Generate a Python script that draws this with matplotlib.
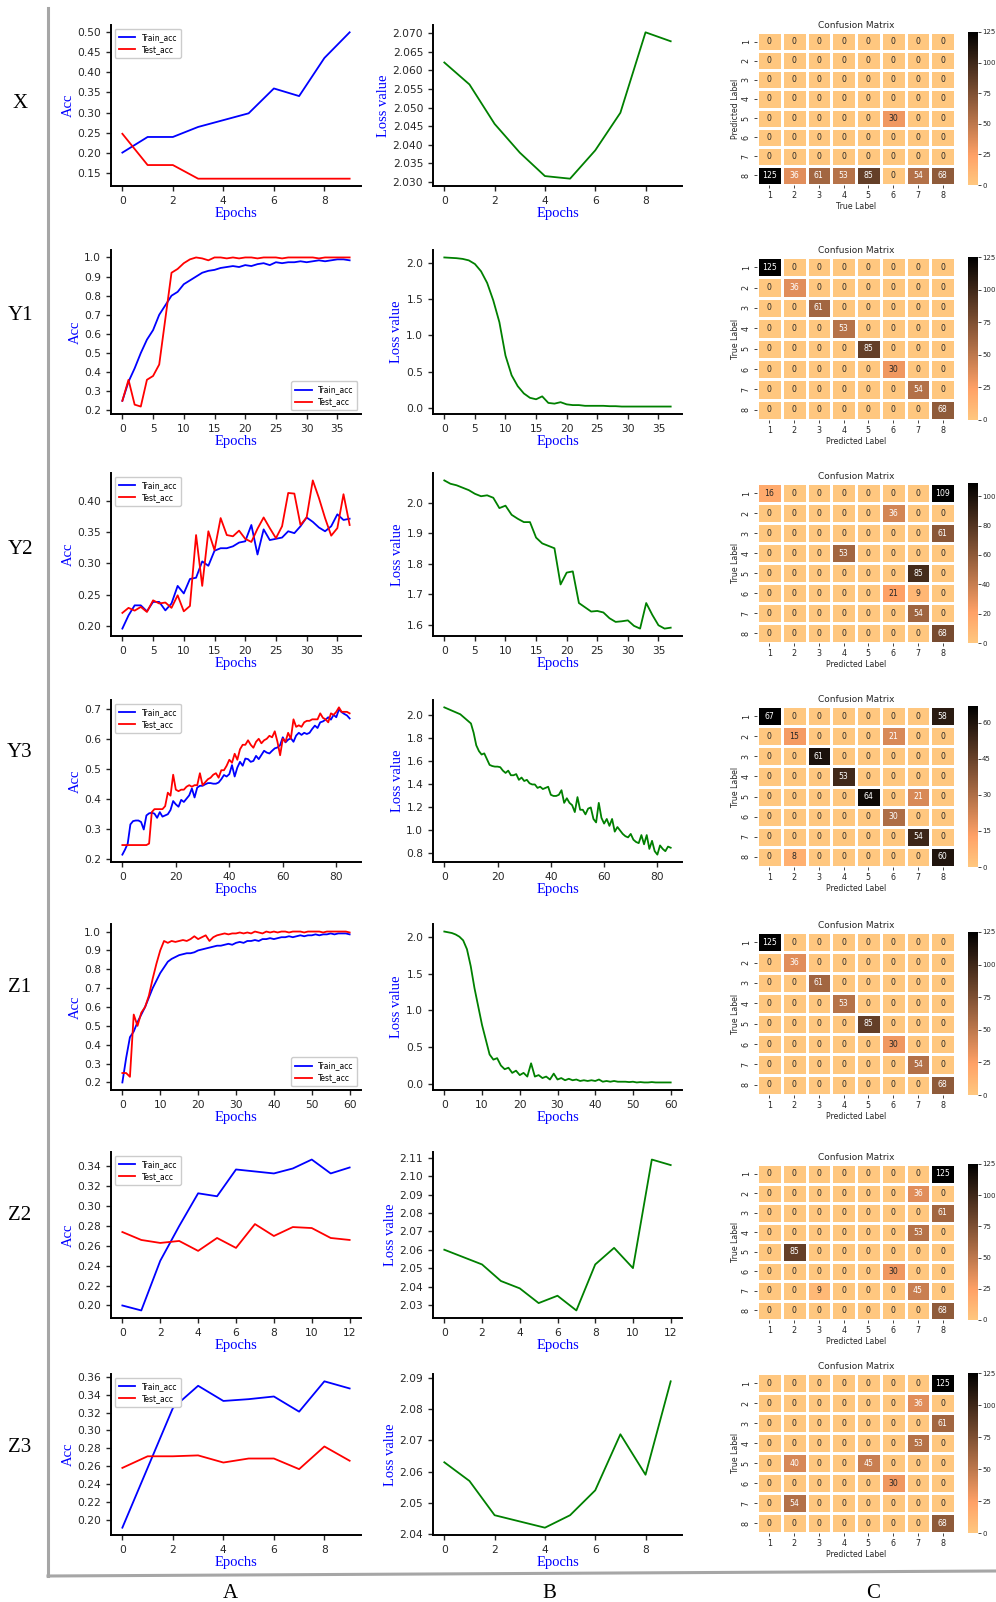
import numpy as np
import matplotlib
matplotlib.use('Agg')
import matplotlib.pyplot as plt
from matplotlib.lines import Line2D
from matplotlib.ticker import MultipleLocator, ScalarFormatter

W, H = 996, 1602

# ---------------- data ----------------
# row X
x_train = [0.200, 0.239, 0.239, 0.264, 0.281, 0.298, 0.360, 0.341, 0.436, 0.500]
x_test = [0.247, 0.169, 0.169, 0.135, 0.135, 0.135, 0.135, 0.135, 0.135, 0.135]
x_loss = [2.0621, 2.0562, 2.0456, 2.0379, 2.0316, 2.0309, 2.0385, 2.0486, 2.0702, 2.0678]

# row Y1
y1_train = [0.25, 0.35, 0.42, 0.50, 0.57, 0.62, 0.70, 0.75, 0.80, 0.82,
            0.86, 0.88, 0.90, 0.92, 0.93, 0.935, 0.945, 0.95, 0.955, 0.95,
            0.96, 0.955, 0.965, 0.97, 0.96, 0.975, 0.97, 0.975, 0.975, 0.98,
            0.975, 0.98, 0.985, 0.98, 0.985, 0.99, 0.99, 0.985]
y1_test = [0.25, 0.36, 0.23, 0.22, 0.36, 0.38, 0.44, 0.68, 0.92, 0.94,
           0.97, 0.99, 1.0, 0.995, 0.985, 1.0, 1.0, 0.995, 1.0, 0.995,
           1.0, 1.0, 0.995, 1.0, 1.0, 1.0, 0.995, 1.0, 1.0, 1.0,
           1.0, 1.0, 0.995, 1.0, 1.0, 1.0, 1.0, 1.0]
y1_loss = [2.07, 2.065, 2.06, 2.05, 2.03, 1.98, 1.88, 1.72, 1.48, 1.18,
           0.72, 0.45, 0.30, 0.20, 0.14, 0.12, 0.16, 0.07, 0.06, 0.08,
           0.05, 0.04, 0.04, 0.03, 0.03, 0.03, 0.03, 0.025, 0.025, 0.02,
           0.02, 0.02, 0.02, 0.02, 0.02, 0.02, 0.02, 0.02]

# row Y2
y2_train = [0.196, 0.217, 0.233, 0.233, 0.2235, 0.2385, 0.2385, 0.225, 0.236, 0.264,
            0.252, 0.275, 0.277, 0.303, 0.296, 0.320, 0.324, 0.324, 0.327, 0.333,
            0.335, 0.361, 0.314, 0.354, 0.337, 0.339, 0.341, 0.351, 0.348, 0.359,
            0.373, 0.366, 0.357, 0.351, 0.359, 0.378, 0.369, 0.371]
y2_test = [0.221, 0.229, 0.2246, 0.2305, 0.2225, 0.241, 0.236, 0.2375, 0.229, 0.249,
           0.2235, 0.232, 0.345, 0.264, 0.351, 0.321, 0.372, 0.345, 0.343, 0.352,
           0.339, 0.334, 0.355, 0.373, 0.356, 0.340, 0.359, 0.412, 0.411, 0.361,
           0.373, 0.432, 0.404, 0.372, 0.344, 0.356, 0.410, 0.361]
y2_loss = [2.074, 2.063, 2.058, 2.050, 2.042, 2.030, 2.022, 2.025, 2.017, 1.983,
           1.991, 1.961, 1.948, 1.937, 1.937, 1.886, 1.867, 1.859, 1.851, 1.732,
           1.771, 1.775, 1.671, 1.657, 1.643, 1.645, 1.640, 1.621, 1.609, 1.611,
           1.614, 1.596, 1.587, 1.671, 1.632, 1.598, 1.587, 1.590]

# row Y3
y3_train = [0.213, 0.23, 0.25, 0.314, 0.325, 0.327, 0.327, 0.322, 0.297, 0.344,
            0.351, 0.353, 0.35, 0.336, 0.355, 0.34, 0.344, 0.348, 0.362, 0.392,
            0.381, 0.373, 0.396, 0.389, 0.40, 0.411, 0.434, 0.404, 0.437, 0.443,
            0.443, 0.448, 0.452, 0.452, 0.45, 0.45, 0.454, 0.465, 0.479, 0.474,
            0.482, 0.512, 0.474, 0.504, 0.523, 0.51, 0.534, 0.532, 0.523, 0.526,
            0.543, 0.532, 0.546, 0.56, 0.554, 0.551, 0.56, 0.568, 0.571, 0.579,
            0.605, 0.588, 0.597, 0.602, 0.59, 0.611, 0.62, 0.613, 0.62, 0.616,
            0.62, 0.633, 0.644, 0.636, 0.655, 0.658, 0.664, 0.672, 0.664, 0.68,
            0.672, 0.698, 0.689, 0.683, 0.678, 0.668]
y3_test = [0.245, 0.245, 0.245, 0.245, 0.245, 0.245, 0.245, 0.245, 0.245, 0.245,
           0.25, 0.355, 0.365, 0.365, 0.365, 0.365, 0.375, 0.42, 0.41, 0.48,
           0.43, 0.425, 0.43, 0.43, 0.44, 0.445, 0.44, 0.445, 0.445, 0.485,
           0.445, 0.455, 0.465, 0.47, 0.48, 0.485, 0.47, 0.495, 0.495, 0.51,
           0.53, 0.52, 0.55, 0.53, 0.565, 0.58, 0.58, 0.595, 0.58, 0.57,
           0.59, 0.60, 0.585, 0.595, 0.60, 0.61, 0.605, 0.625, 0.59, 0.545,
           0.60, 0.59, 0.62, 0.60, 0.665, 0.64, 0.645, 0.64, 0.655, 0.66,
           0.66, 0.665, 0.665, 0.665, 0.685, 0.67, 0.665, 0.655, 0.685, 0.68,
           0.69, 0.705, 0.69, 0.69, 0.69, 0.685]
y3_loss = [2.07, 2.06, 2.05, 2.04, 2.03, 2.02, 2.01, 1.99, 1.97, 1.95,
           1.93, 1.85, 1.74, 1.69, 1.66, 1.67, 1.62, 1.57, 1.56, 1.555,
           1.555, 1.55, 1.52, 1.50, 1.52, 1.48, 1.48, 1.49, 1.44, 1.46,
           1.43, 1.44, 1.41, 1.40, 1.40, 1.37, 1.38, 1.36, 1.37, 1.38,
           1.31, 1.30, 1.30, 1.31, 1.35, 1.24, 1.28, 1.24, 1.22, 1.16,
           1.29, 1.18, 1.18, 1.14, 1.19, 1.20, 1.10, 1.07, 1.24, 1.11,
           1.06, 1.10, 1.04, 1.10, 0.99, 1.03, 1.00, 0.97, 0.95, 0.94,
           0.97, 0.92, 0.90, 0.89, 0.96, 0.88, 0.96, 0.84, 0.91, 0.82,
           0.79, 0.87, 0.84, 0.82, 0.86, 0.85]

# row Z1
z1_train = [0.20, 0.33, 0.44, 0.47, 0.52, 0.56, 0.60, 0.65, 0.70, 0.74,
            0.78, 0.81, 0.84, 0.855, 0.865, 0.875, 0.88, 0.885, 0.885, 0.89,
            0.90, 0.905, 0.91, 0.915, 0.92, 0.925, 0.925, 0.93, 0.935, 0.93,
            0.94, 0.945, 0.94, 0.95, 0.95, 0.955, 0.95, 0.96, 0.96, 0.965,
            0.96, 0.965, 0.97, 0.97, 0.975, 0.97, 0.975, 0.98, 0.975, 0.98,
            0.98, 0.985, 0.98, 0.985, 0.985, 0.99, 0.985, 0.99, 0.99, 0.99, 0.985]
z1_test = [0.25, 0.25, 0.23, 0.56, 0.50, 0.57, 0.60, 0.66, 0.75, 0.83,
           0.90, 0.95, 0.94, 0.95, 0.945, 0.95, 0.955, 0.95, 0.96, 0.975,
           0.96, 0.97, 0.98, 0.95, 0.97, 0.98, 0.985, 0.99, 0.985, 0.99,
           0.99, 0.995, 0.99, 0.995, 0.99, 1.0, 0.995, 0.99, 1.0, 0.995,
           1.0, 0.995, 1.0, 1.0, 0.995, 1.0, 1.0, 1.0, 0.995, 1.0,
           1.0, 1.0, 1.0, 0.995, 1.0, 1.0, 1.0, 1.0, 1.0, 1.0, 0.995]
z1_loss = [2.07, 2.06, 2.05, 2.03, 2.00, 1.95, 1.83, 1.60, 1.30, 1.05,
           0.80, 0.60, 0.40, 0.33, 0.35, 0.25, 0.20, 0.22, 0.15, 0.18,
           0.12, 0.15, 0.10, 0.28, 0.10, 0.12, 0.08, 0.10, 0.06, 0.14,
           0.06, 0.08, 0.05, 0.07, 0.05, 0.06, 0.04, 0.05, 0.04, 0.05,
           0.04, 0.06, 0.03, 0.04, 0.03, 0.04, 0.03, 0.03, 0.03, 0.025,
           0.03, 0.02, 0.025, 0.02, 0.02, 0.025, 0.02, 0.02, 0.02, 0.02, 0.02]

# row Z2
z2_train = [0.200, 0.195, 0.245, 0.280, 0.313, 0.310, 0.337, 0.335, 0.333, 0.338, 0.347, 0.333, 0.339]
z2_test = [0.274, 0.266, 0.263, 0.265, 0.255, 0.268, 0.258, 0.282, 0.270, 0.279, 0.278, 0.268, 0.266]
z2_loss = [2.060, 2.056, 2.052, 2.043, 2.039, 2.031, 2.035, 2.027, 2.052, 2.061, 2.050, 2.109, 2.106]

# row Z3
z3_train = [0.191, 0.258, 0.325, 0.350, 0.333, 0.335, 0.338, 0.321, 0.355, 0.347]
z3_test = [0.258, 0.271, 0.271, 0.272, 0.264, 0.2685, 0.2685, 0.2566, 0.282, 0.266]
z3_loss = [2.063, 2.057, 2.046, 2.044, 2.042, 2.046, 2.054, 2.072, 2.059, 2.089]

# confusion matrices (rows top to bottom)
x_cm = [[0, 0, 0, 0, 0, 0, 0, 0],
        [0, 0, 0, 0, 0, 0, 0, 0],
        [0, 0, 0, 0, 0, 0, 0, 0],
        [0, 0, 0, 0, 0, 0, 0, 0],
        [0, 0, 0, 0, 0, 30, 0, 0],
        [0, 0, 0, 0, 0, 0, 0, 0],
        [0, 0, 0, 0, 0, 0, 0, 0],
        [125, 36, 61, 53, 85, 0, 54, 68]]
y1_cm = [[125, 0, 0, 0, 0, 0, 0, 0],
         [0, 36, 0, 0, 0, 0, 0, 0],
         [0, 0, 61, 0, 0, 0, 0, 0],
         [0, 0, 0, 53, 0, 0, 0, 0],
         [0, 0, 0, 0, 85, 0, 0, 0],
         [0, 0, 0, 0, 0, 30, 0, 0],
         [0, 0, 0, 0, 0, 0, 54, 0],
         [0, 0, 0, 0, 0, 0, 0, 68]]
y2_cm = [[16, 0, 0, 0, 0, 0, 0, 109],
         [0, 0, 0, 0, 0, 36, 0, 0],
         [0, 0, 0, 0, 0, 0, 0, 61],
         [0, 0, 0, 53, 0, 0, 0, 0],
         [0, 0, 0, 0, 0, 0, 85, 0],
         [0, 0, 0, 0, 0, 21, 9, 0],
         [0, 0, 0, 0, 0, 0, 54, 0],
         [0, 0, 0, 0, 0, 0, 0, 68]]
y3_cm = [[67, 0, 0, 0, 0, 0, 0, 58],
         [0, 15, 0, 0, 0, 21, 0, 0],
         [0, 0, 61, 0, 0, 0, 0, 0],
         [0, 0, 0, 53, 0, 0, 0, 0],
         [0, 0, 0, 0, 64, 0, 21, 0],
         [0, 0, 0, 0, 0, 30, 0, 0],
         [0, 0, 0, 0, 0, 0, 54, 0],
         [0, 8, 0, 0, 0, 0, 0, 60]]
z1_cm = [[125, 0, 0, 0, 0, 0, 0, 0],
         [0, 36, 0, 0, 0, 0, 0, 0],
         [0, 0, 61, 0, 0, 0, 0, 0],
         [0, 0, 0, 53, 0, 0, 0, 0],
         [0, 0, 0, 0, 85, 0, 0, 0],
         [0, 0, 0, 0, 0, 30, 0, 0],
         [0, 0, 0, 0, 0, 0, 54, 0],
         [0, 0, 0, 0, 0, 0, 0, 68]]
z2_cm = [[0, 0, 0, 0, 0, 0, 0, 125],
         [0, 0, 0, 0, 0, 0, 36, 0],
         [0, 0, 0, 0, 0, 0, 0, 61],
         [0, 0, 0, 0, 0, 0, 53, 0],
         [0, 85, 0, 0, 0, 0, 0, 0],
         [0, 0, 0, 0, 0, 30, 0, 0],
         [0, 0, 9, 0, 0, 0, 45, 0],
         [0, 0, 0, 0, 0, 0, 0, 68]]
z3_cm = [[0, 0, 0, 0, 0, 0, 0, 125],
         [0, 0, 0, 0, 0, 0, 36, 0],
         [0, 0, 0, 0, 0, 0, 0, 61],
         [0, 0, 0, 0, 0, 0, 53, 0],
         [0, 40, 0, 0, 45, 0, 0, 0],
         [0, 0, 0, 0, 0, 30, 0, 0],
         [0, 54, 0, 0, 0, 0, 0, 0],
         [0, 0, 0, 0, 0, 0, 0, 68]]

row_names = ["X", "Y1", "Y2", "Y3", "Z1", "Z2", "Z3"]
col_names = ["A", "B", "C"]
cm_ticks = ["1", "2", "3", "4", "5", "6", "7", "8"]

trains = [x_train, y1_train, y2_train, y3_train, z1_train, z2_train, z3_train]
tests = [x_test, y1_test, y2_test, y3_test, z1_test, z2_test, z3_test]
losses = [x_loss, y1_loss, y2_loss, y3_loss, z1_loss, z2_loss, z3_loss]
cms = [x_cm, y1_cm, y2_cm, y3_cm, z1_cm, z2_cm, z3_cm]

# ---------------- layout / style per row ----------------
line_rows = [(25, 186), (250, 414), (473, 636), (700, 862), (924, 1090), (1152, 1318), (1374, 1535)]
cm_rows = [(32, 185), (257, 420), (483, 643), (706, 867), (932, 1095), (1164, 1320), (1373, 1533)]
name_y = [103, 315, 549, 753, 988, 1216, 1447]
x_steps = [2, 5, 5, 20, 10, 2, 2]
acc_steps = [0.05, 0.1, 0.05, 0.1, 0.1, 0.02, 0.02]
loss_steps = [0.005, 0.5, 0.1, 0.2, 0.5, 0.01, 0.01]
cbar_steps = [25, 25, 20, 15, 25, 25, 25]
legend_locs = ["upper left", "lower right", "upper left", "upper left",
               "lower right", "upper left", "upper left"]

serif = "Liberation Serif"
tick_col = "#262626"


def rect(x0, y0, x1, y1):
    return [x0 / W, 1 - y1 / H, (x1 - x0) / W, (y1 - y0) / H]


def style_line_ax(ax, xstep, ystep):
    for s in ["top", "right"]:
        ax.spines[s].set_visible(False)
    for s in ["left", "bottom"]:
        ax.spines[s].set_linewidth(1.4)
        ax.spines[s].set_color("black")
    ax.xaxis.set_major_locator(MultipleLocator(xstep))
    ax.yaxis.set_major_locator(MultipleLocator(ystep))
    fmt = ScalarFormatter(useOffset=False)
    ax.yaxis.set_major_formatter(fmt)
    ax.tick_params(labelsize=7.7, colors=tick_col, width=1.0, length=3.5)
    ax.set_xlabel("Epochs", fontfamily=serif, fontsize=10.5, color="blue", labelpad=1)


def lum_text_color(rgba):
    rgb = np.array(rgba[:3])
    rgb = np.where(rgb <= .03928, rgb / 12.92, ((rgb + .055) / 1.055) ** 2.4)
    lum = .2126 * rgb[0] + .7152 * rgb[1] + .0722 * rgb[2]
    return ".15" if lum > .408 else "w"


def draw_cm(ax, cax, cm, step, xlab, ylab):
    cm = np.array(cm)
    mesh = ax.pcolormesh(cm, cmap="copper_r", vmin=0, vmax=cm.max(),
                         edgecolors="white", linewidth=1.0)
    ax.set_xlim(0, 8)
    ax.set_ylim(8, 0)
    for s in ax.spines.values():
        s.set_visible(False)
    for i in range(8):
        for j in range(8):
            col = lum_text_color(mesh.cmap(mesh.norm(cm[i, j])))
            ax.text(j + 0.5, i + 0.5, str(cm[i, j]), ha="center", va="center",
                    fontsize=5.6, color=col)
    ax.set_xticks(np.arange(8) + 0.5)
    ax.set_xticklabels(cm_ticks)
    ax.set_yticks(np.arange(8) + 0.5)
    ax.set_yticklabels(cm_ticks, rotation=90, va="center")
    ax.tick_params(labelsize=5.8, colors=tick_col, length=2.5, width=0.6, pad=2)
    ax.set_title("Confusion Matrix", fontsize=6.5, color=tick_col, pad=3)
    ax.set_xlabel(xlab, fontsize=5.6, color=tick_col, labelpad=1)
    ax.set_ylabel(ylab, fontsize=5.6, color=tick_col, labelpad=1)
    cb = plt.colorbar(mesh, cax=cax)
    cb.outline.set_linewidth(0)
    cb.set_ticks(np.arange(0, cm.max() + 1, step))
    cax.tick_params(labelsize=5.0, colors=tick_col, length=2.0, width=0.6, pad=1)


fig = plt.figure(figsize=(W / 100, H / 100), dpi=100)

for r in range(7):
    y0, y1 = line_rows[r]
    ep = np.arange(len(trains[r]))

    # column A: accuracy
    ax = fig.add_axes(rect(111, y0, 361, y1))
    ax.plot(ep, trains[r], color="blue", lw=1.3, label="Train_acc")
    ax.plot(np.arange(len(tests[r])), tests[r], color="red", lw=1.3, label="Test_acc")
    style_line_ax(ax, x_steps[r], acc_steps[r])
    ax.set_ylabel("Acc", fontfamily=serif, fontsize=10.5, color="blue", labelpad=2)
    ax.legend(loc=legend_locs[r], fontsize=5.5, handlelength=2.2, borderpad=0.5,
              labelspacing=0.4, framealpha=1)

    # column B: loss
    ax = fig.add_axes(rect(433, y0, 682, y1))
    ax.plot(np.arange(len(losses[r])), losses[r], color="green", lw=1.3)
    style_line_ax(ax, x_steps[r], loss_steps[r])
    ax.set_ylabel("Loss value", fontfamily=serif, fontsize=10.5, color="blue", labelpad=2)

    # column C: confusion matrix
    c0, c1 = cm_rows[r]
    ax = fig.add_axes(rect(757, c0, 955, c1))
    cax = fig.add_axes(rect(968, c0, 978, c1))
    if r == 0:
        draw_cm(ax, cax, cms[r], cbar_steps[r], "True Label", "Predicted Label")
    else:
        draw_cm(ax, cax, cms[r], cbar_steps[r], "Predicted Label", "True Label")

    fig.text(20 / W, 1 - name_y[r] / H, row_names[r], fontfamily=serif, fontsize=15,
             ha="center", va="center")

for name, cx in zip(col_names, [230, 549, 873]):
    fig.text(cx / W, 1 - 1593 / H, name, fontfamily=serif, fontsize=15,
             ha="center", va="center")

# grey frame
fig.add_artist(Line2D([48 / W, 48 / W], [1 - 8 / H, 1 - 1576 / H],
                      transform=fig.transFigure, color="#a6a6a6", lw=2.2))
fig.add_artist(Line2D([48 / W, 1.0], [1 - 1576 / H, 1 - 1571 / H],
                      transform=fig.transFigure, color="#a6a6a6", lw=2.2))

fig.savefig("out.png", dpi=100, facecolor="white")
